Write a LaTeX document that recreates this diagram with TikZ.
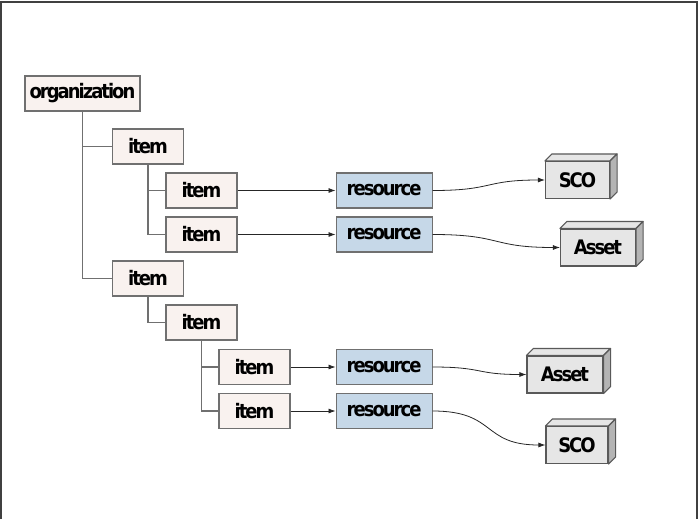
\documentclass[tikz,border=0pt]{standalone}
\usepackage{fontspec}
\setmainfont{DejaVu Sans}
\newfontfamily\boxfont{DejaVu Sans Condensed}[LetterSpace=-10]
\usetikzlibrary{positioning, arrows.meta, calc}

\definecolor{itemfill}{HTML}{F9F2EF}
\definecolor{resfill}{HTML}{C6D8E8}
\definecolor{blkfill}{HTML}{E6E6E6}
\definecolor{blkside}{HTML}{B4B4B4}
\definecolor{linegray}{HTML}{707070}

\begin{document}
\begin{tikzpicture}[
    x=1pt, y=-1pt,
    box/.style={draw=linegray, line width=1.1pt, rectangle, minimum height=35pt, inner sep=0pt, font=\boxfont\fontsize{20}{22}\selectfont\bfseries},
    itm/.style={box, fill=itemfill, minimum width=71pt},
    res/.style={box, fill=resfill, minimum width=96pt},
    blk/.style={box, fill=blkfill, draw=gray!70!black, minimum height=37pt},
    face/.style={draw=gray!70!black, line width=1.1pt, line join=round},
    tree/.style={draw=linegray, line width=1.1pt},
    arrow/.style={-{Latex[length=7pt, width=5pt]}, line width=0.8pt, black!85}
]
\useasboundingbox (0,0) rectangle (700,519);
\draw[black!75, line width=1.5pt] (1,519) -- (1,2) -- (697,2) -- (697,519);

% tree of items
\node[itm, minimum width=115pt] (org) at (82.5,93.5) {organization};
\node[itm] (item1)   at (148,146.5)  {item};
\node[itm] (item11)  at (201.5,190.5) {item};
\node[itm] (item12)  at (201.5,234.5) {item};
\node[itm] (item2)   at (148,278.5)  {item};
\node[itm] (item21)  at (201.5,322.5) {item};
\node[itm] (item211) at (254.5,367)  {item};
\node[itm] (item212) at (254.5,411)  {item};

\draw[tree] (org.south) |- (item1.west);
\draw[tree] (org.south) |- (item2.west);
\draw[tree] (item1.south) |- (item11.west);
\draw[tree] (item1.south) |- (item12.west);
\draw[tree] (item2.south) |- (item21.west);
\draw[tree] (item21.south) |- (item211.west);
\draw[tree] (item21.south) |- (item212.west);

% resources
\node[res, right=98pt of item11]  (res1) {resource};
\node[res, right=98pt of item12]  (res2) {resource};
\node[res, right=45pt of item211] (res3) {resource};
\node[res, right=45pt of item212] (res4) {resource};

% SCO / Asset blocks
\node[blk, minimum width=64pt] (sco1)   at (577.5,180)  {SCO};
\node[blk, minimum width=75pt] (asset1) at (598,247.5)  {Asset};
\node[blk, minimum width=76pt] (asset2) at (565,374.5)  {Asset};
\node[blk, minimum width=62pt] (sco2)   at (577,445)    {SCO};

\draw[face, fill=blkfill] (sco1.north west) -- ++(7,-7) -- ($(sco1.north east)+(7,-7)$) -- (sco1.north east) -- cycle;
\draw[face, fill=blkside] (sco1.north east) -- ++(7,-7) -- ($(sco1.south east)+(7,-7)$) -- (sco1.south east) -- cycle;
\draw[face, fill=blkfill] (asset1.north west) -- ++(7,-7) -- ($(asset1.north east)+(7,-7)$) -- (asset1.north east) -- cycle;
\draw[face, fill=blkside] (asset1.north east) -- ++(7,-7) -- ($(asset1.south east)+(7,-7)$) -- (asset1.south east) -- cycle;
\draw[face, fill=blkfill] (asset2.north west) -- ++(7,-7) -- ($(asset2.north east)+(7,-7)$) -- (asset2.north east) -- cycle;
\draw[face, fill=blkside] (asset2.north east) -- ++(7,-7) -- ($(asset2.south east)+(7,-7)$) -- (asset2.south east) -- cycle;
\draw[face, fill=blkfill] (sco2.north west) -- ++(7,-7) -- ($(sco2.north east)+(7,-7)$) -- (sco2.north east) -- cycle;
\draw[face, fill=blkside] (sco2.north east) -- ++(7,-7) -- ($(sco2.south east)+(7,-7)$) -- (sco2.south east) -- cycle;

% links
\draw[arrow] (item11) -- (res1);
\draw[arrow] (item12) -- (res2);
\draw[arrow] (item211) -- (res3);
\draw[arrow] (item212) -- (res4);
\draw[arrow] (res1) to[out=0, in=180, looseness=1.4] (sco1);
\draw[arrow] (res2) to[out=0, in=180, looseness=1.4] (asset1);
\draw[arrow] (res3) to[out=0, in=180, looseness=1.4] (asset2);
\draw[arrow] (res4) to[out=0, in=180, looseness=1.4] (sco2);
\end{tikzpicture}
\end{document}
